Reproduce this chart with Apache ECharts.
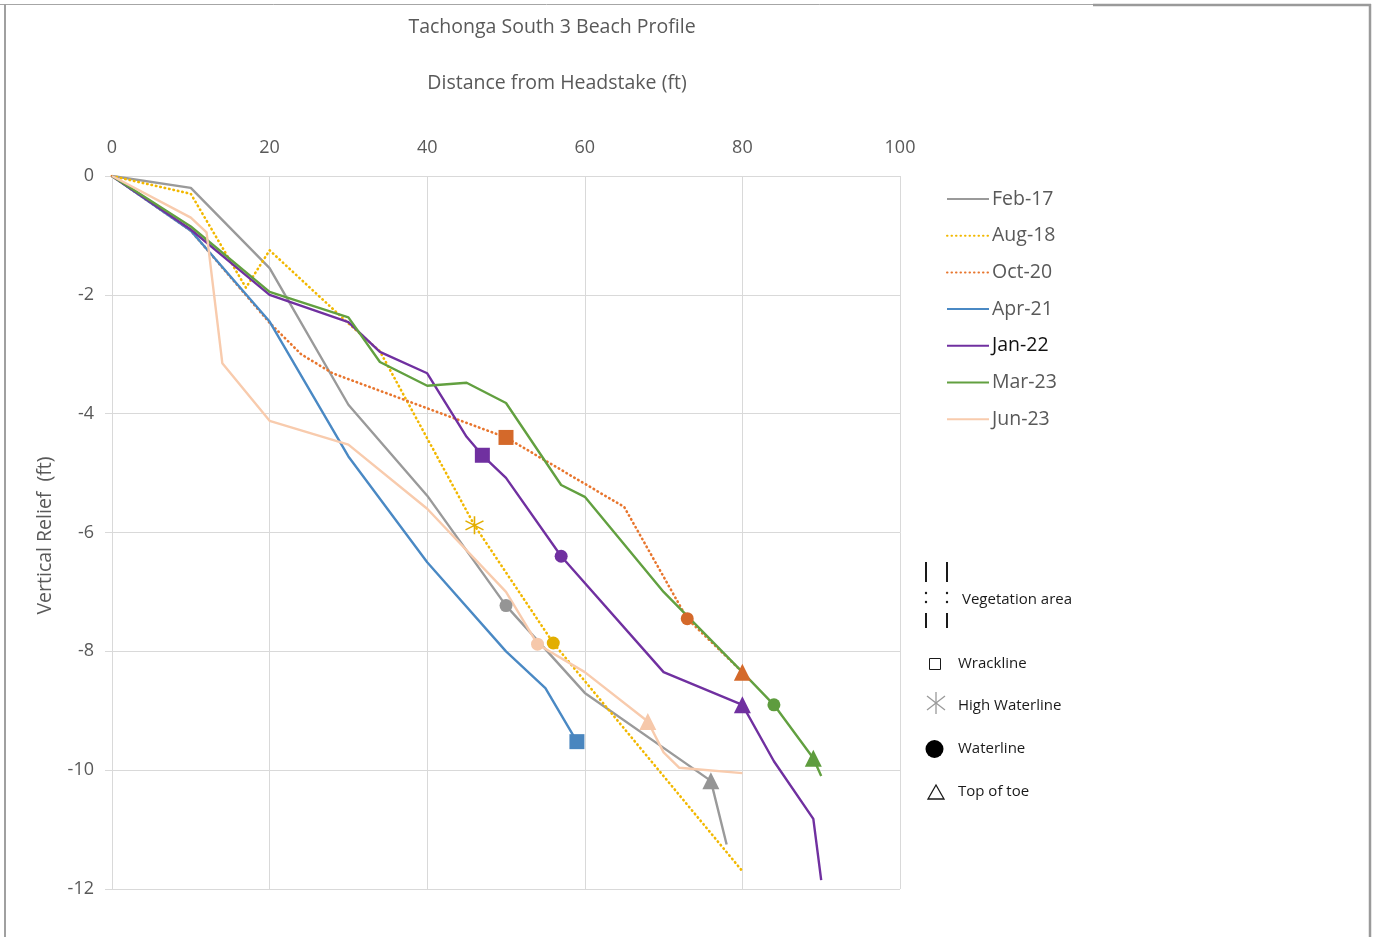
<!DOCTYPE html>
<html>
<head>
<meta charset="utf-8">
<script src="https://cdn.jsdelivr.net/npm/echarts@6/dist/echarts.min.js"></script>
<style>
html,body{margin:0;padding:0;background:#fff;}
#chart{width:1380px;height:937px;}
</style>
</head>
<body>
<div id="chart"></div>
<script>
// ---- Data (distance ft, vertical relief ft) ----
const seriesNames = ['Feb-17','Aug-18','Oct-20','Apr-21','Jan-22','Mar-23','Jun-23'];
const feb17 = [[0,0],[10,-0.2],[20,-1.55],[30,-3.85],[40,-5.38],[50,-7.23],[60,-8.7],[76,-10.18],[78,-11.25]];
const aug18 = [[0,0],[10,-0.3],[17,-1.88],[20,-1.25],[30,-2.48],[34,-2.95],[46,-5.88],[56,-7.86],[80,-11.7]];
const oct20 = [[0,0],[10,-0.92],[20,-2.47],[24,-3.0],[28,-3.32],[50,-4.4],[65,-5.57],[73,-7.45],[80,-8.35]];
const apr21 = [[0,0],[10,-0.92],[20,-2.45],[30,-4.72],[40,-6.5],[50,-8.0],[55,-8.62],[59,-9.52]];
const jan22 = [[0,0],[10,-0.9],[20,-2.0],[30,-2.46],[34,-2.96],[40,-3.32],[45,-4.39],[47,-4.7],[50,-5.08],[57,-6.4],[70,-8.35],[80,-8.9],[84,-9.85],[89,-10.82],[90,-11.85]];
const mar23 = [[0,0],[10,-0.85],[20,-1.95],[30,-2.38],[34,-3.13],[40,-3.53],[45,-3.48],[50,-3.82],[57,-5.2],[60,-5.4],[70,-7.0],[80,-8.35],[84,-8.9],[89,-9.8],[90,-10.1]];
const jun23 = [[0,0],[10,-0.7],[12,-0.95],[14,-3.15],[20,-4.12],[30,-4.52],[40,-5.6],[50,-7.0],[54,-7.88],[60,-8.35],[68,-9.18],[70,-9.7],[72,-9.96],[80,-10.05]];

// ---- Feature markers: [survey, distance, relief] ----
const wracklinePts = [['Jan-22',47,-4.7],['Oct-20',50,-4.4],['Apr-21',59,-9.52]];
const highWaterPts = [['Aug-18',46,-5.88]];
const waterlinePts = [['Feb-17',50,-7.23],['Aug-18',56,-7.86],['Jun-23',54,-7.88],['Jan-22',57,-6.4],['Oct-20',73,-7.45],['Mar-23',84,-8.9]];
const toePts = [['Feb-17',76,-10.18],['Jun-23',68,-9.18],['Oct-20',80,-8.35],['Jan-22',80,-8.9],['Mar-23',89,-9.8]];

const markerLegend = ['Vegetation area','Wrackline','High Waterline','Waterline','Top of toe'];

// ---- Styles ----
const FONT = '"Open Sans", "Liberation Sans", sans-serif';
const lineData = [feb17, aug18, oct20, apr21, jan22, mar23, jun23];
const lineColors = {'Feb-17':'#9a9a9a','Aug-18':'#F2B800','Oct-20':'#E8762E','Apr-21':'#4A89C4','Jan-22':'#7030A0','Mar-23':'#62A040','Jun-23':'#F8CBAD'};
const markColors = {'Feb-17':'#959595','Aug-18':'#E2AE00','Oct-20':'#D4692A','Apr-21':'#4A86BF','Jan-22':'#7030A0','Mar-23':'#5E9C3E','Jun-23':'#F6C8AA'};
const dotted = {'Aug-18':true,'Oct-20':true};

const series = seriesNames.map((name, i) => ({
  name: name,
  type: 'line',
  data: lineData[i],
  symbol: 'none',
  z: 2,
  lineStyle: {
    color: lineColors[name],
    width: dotted[name] ? 2.6 : 2.4,
    type: dotted[name] ? [0.5, 4.0] : 'solid',
    cap: dotted[name] ? 'round' : 'butt',
    join: 'round'
  },
  itemStyle: {color: lineColors[name]},
  emphasis: {disabled: true},
  animation: false
}));

function markerSeries(id, pts, symbol, size, extra) {
  return {
    id: id,
    type: 'scatter',
    z: 5,
    symbol: symbol,
    symbolSize: size,
    data: pts.map(p => {
      const it = {value: [p[1], p[2]], itemStyle: {color: markColors[p[0]], opacity: 1}};
      if (extra) it.itemStyle = extra(markColors[p[0]]);
      return it;
    }),
    emphasis: {disabled: true},
    animation: false
  };
}
const asteriskPath = 'path://M5,0 L5,10 M0.7,2.5 L9.3,7.5 M0.7,7.5 L9.3,2.5';
series.push(markerSeries('wrack', wracklinePts, 'rect', 15));
series.push(markerSeries('hw', highWaterPts, asteriskPath, 18, c => ({color: 'rgba(0,0,0,0)', borderColor: c, borderWidth: 1.6, opacity: 1})));
series.push(markerSeries('wl', waterlinePts, 'circle', 13));
series.push(markerSeries('toe', toePts, 'triangle', 17));

// ---- Custom symbol legend (graphics) ----
const TX = 958, BLK = '#1a1a1a', LF = '15px ' + FONT;
const lg = [];
// vegetation icon: two dashed vertical lines
[926, 947].forEach(x => {
  lg.push({type:'line', shape:{x1:x,y1:562,x2:x,y2:582}, style:{stroke:BLK,lineWidth:2}});
  lg.push({type:'circle', shape:{cx:x,cy:593,r:1.2}, style:{fill:BLK}});
  lg.push({type:'circle', shape:{cx:x,cy:602,r:1.2}, style:{fill:BLK}});
  lg.push({type:'line', shape:{x1:x,y1:613,x2:x,y2:628}, style:{stroke:BLK,lineWidth:2}});
});
lg.push({type:'text', x:962, y:600, style:{text:markerLegend[0], font:LF, fill:BLK, verticalAlign:'middle'}});
lg.push({type:'rect', shape:{x:929.5,y:658.5,width:11,height:11}, style:{fill:'#fff',stroke:BLK,lineWidth:1}});
lg.push({type:'text', x:TX, y:664, style:{text:markerLegend[1], font:LF, fill:BLK, verticalAlign:'middle'}});
// asterisk
lg.push({type:'line', shape:{x1:936,y1:692,x2:936,y2:714}, style:{stroke:'#9a9a9a',lineWidth:1.3}});
lg.push({type:'line', shape:{x1:927,y1:696,x2:945,y2:710}, style:{stroke:'#9a9a9a',lineWidth:1.3}});
lg.push({type:'line', shape:{x1:927,y1:710,x2:945,y2:696}, style:{stroke:'#9a9a9a',lineWidth:1.3}});
lg.push({type:'text', x:TX, y:706, style:{text:markerLegend[2], font:LF, fill:BLK, verticalAlign:'middle'}});
lg.push({type:'circle', shape:{cx:934.5,cy:749,r:9}, style:{fill:'#000'}});
lg.push({type:'text', x:TX, y:749, style:{text:markerLegend[3], font:LF, fill:BLK, verticalAlign:'middle'}});
lg.push({type:'polygon', shape:{points:[[936,785],[928,799],[944,799]]}, style:{fill:'#fff',stroke:BLK,lineWidth:1.3}});
lg.push({type:'text', x:TX, y:792, style:{text:markerLegend[4], font:LF, fill:BLK, verticalAlign:'middle'}});
// frame
lg.push({type:'line', shape:{x1:0,y1:4.5,x2:1093,y2:4.5}, style:{stroke:'#a6a6a6',lineWidth:1}});
lg.push({type:'line', shape:{x1:1093,y1:5,x2:1371,y2:5}, style:{stroke:'#9a9a9a',lineWidth:2.5}});
lg.push({type:'line', shape:{x1:5,y1:4,x2:5,y2:937}, style:{stroke:'#a0a0a0',lineWidth:2}});
lg.push({type:'line', shape:{x1:1370,y1:4,x2:1370,y2:937}, style:{stroke:'#9a9a9a',lineWidth:2.5}});

const chart = echarts.init(document.getElementById('chart'));
chart.setOption({
  backgroundColor: '#fff',
  animation: false,
  title: {
    text: 'Tachonga South 3 Beach Profile',
    left: 547, top: 12, textAlign: 'center',
    textStyle: {fontFamily: FONT, fontSize: 19.5, fontWeight: 'normal', color: '#595959'}
  },
  grid: {left: 112, right: 480, top: 176, bottom: 48},
  xAxis: {
    type: 'value', position: 'top', min: 0, max: 100, interval: 20,
    name: 'Distance from Headstake (ft)', nameLocation: 'middle', nameGap: 83,
    nameTextStyle: {fontFamily: FONT, fontSize: 19.5, color: '#595959', padding: [0, 0, 0, 102]},
    axisLine: {show: true, lineStyle: {color: '#d9d9d9', width: 1}},
    axisTick: {show: false},
    axisLabel: {fontFamily: FONT, fontSize: 18, color: '#595959', margin: 19},
    splitLine: {show: true, lineStyle: {color: '#d9d9d9', width: 1}}
  },
  yAxis: {
    type: 'value', min: -12, max: 0, interval: 2,
    name: 'Vertical Relief  (ft)', nameLocation: 'middle', nameGap: 57,
    nameTextStyle: {fontFamily: FONT, fontSize: 19.5, color: '#595959', padding: [0, 6, 0, 0]},
    axisLine: {show: true, onZero: false, lineStyle: {color: '#d9d9d9', width: 1}},
    axisTick: {show: true, length: 7, lineStyle: {color: '#d9d9d9'}},
    axisLabel: {fontFamily: FONT, fontSize: 18, color: '#595959', margin: 18},
    splitLine: {show: true, lineStyle: {color: '#d9d9d9', width: 1}}
  },
  legend: {
    orient: 'vertical', left: 941, top: 184,
    itemWidth: 42, itemHeight: 18, itemGap: 16.7,
    selectedMode: false,
    itemStyle: {opacity: 0},
    textStyle: {fontFamily: FONT, fontSize: 19.5, color: '#595959', padding: [0,0,0,-2]},
    data: seriesNames.map(n => n === 'Jan-22' ? {name: n, textStyle: {color: '#111'}} : n)
  },
  series: series,
  graphic: lg
});
</script>
</body>
</html>
